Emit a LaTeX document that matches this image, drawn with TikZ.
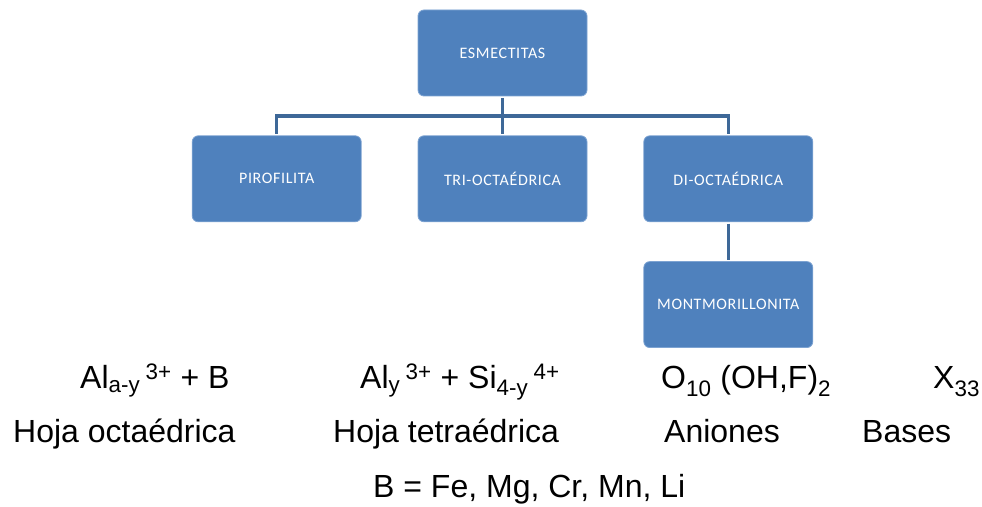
\documentclass[tikz,border=0pt]{standalone}
\usepackage{fontspec}
\setmainfont{Liberation Sans}
\newfontfamily\calfont[LetterSpace=4]{Carlito}
\usepackage{tikz}
\usetikzlibrary{positioning}
\definecolor{eBlue}{RGB}{79,129,189}
\definecolor{eLine}{RGB}{62,104,152}
\definecolor{eEdge}{RGB}{125,163,210}

\begin{document}
\begin{tikzpicture}[
  x=1pt, y=1pt,
  node distance=39pt and 56pt,
  box/.style={draw=eEdge, line width=0.8pt, fill=eBlue, rounded corners=6pt,
              minimum width=169pt, minimum height=86pt, inner sep=0pt,
              text=white, font=\calfont\fontsize{16}{19}\selectfont},
  link/.style={draw=eLine, line width=3.4pt, shorten <=1.5pt, shorten >=1.5pt},
  formula/.style={anchor=base west, inner sep=0pt, font=\fontsize{32}{38}\selectfont},
]
  \useasboundingbox (0,0) rectangle (982,506);

  % tree of clays
  \node[box] (esm) at (502.5,453) {ESMECTITAS};
  \node[box, below=of esm] (tri) {TRI-OCTAÉDRICA};
  \node[box, left=of tri] (piro) {PIROFILITA};
  \node[box, right=of tri] (di) {DI-OCTAÉDRICA};
  \node[box, below=of di] (mont) {MONTMORILLONITA};

  \path (esm.south) -- (tri.north) coordinate[midway] (hub);
  \draw[link, shorten >=0pt] (esm.south) -- (hub);
  \draw[link, shorten <=0pt] (hub) -- (tri.north);
  \draw[link] (piro.north) |- (hub) -| (di.north);
  \draw[link] (di.south) -- (mont.north);

  % general formula
  \node[formula] (octa) at (80,117) {Al\textsubscript{a-y}\,\textsuperscript{3+} + B};
  \node[formula] (tetra) at (360,117) {Al\textsubscript{y}\,\textsuperscript{3+} + Si\textsubscript{4-y}\,\textsuperscript{4+}};
  \node[formula] (anion) at (661,117) {O\textsubscript{10} (OH,F)\textsubscript{2}};
  \node[formula] (base) at (933,117) {X\textsubscript{33}};

  \node[formula] (octaname) at (13,63.5) {Hoja octaédrica};
  \node[formula] (tetraname) at (333,63.5) {Hoja tetraédrica};
  \node[formula] (anionname) at (664,63.5) {Aniones};
  \node[formula] (basename) at (862,63.5) {Bases};

  \node[formula] (bdef) at (373,9) {B = Fe, Mg, Cr, Mn, Li};
\end{tikzpicture}
\end{document}
